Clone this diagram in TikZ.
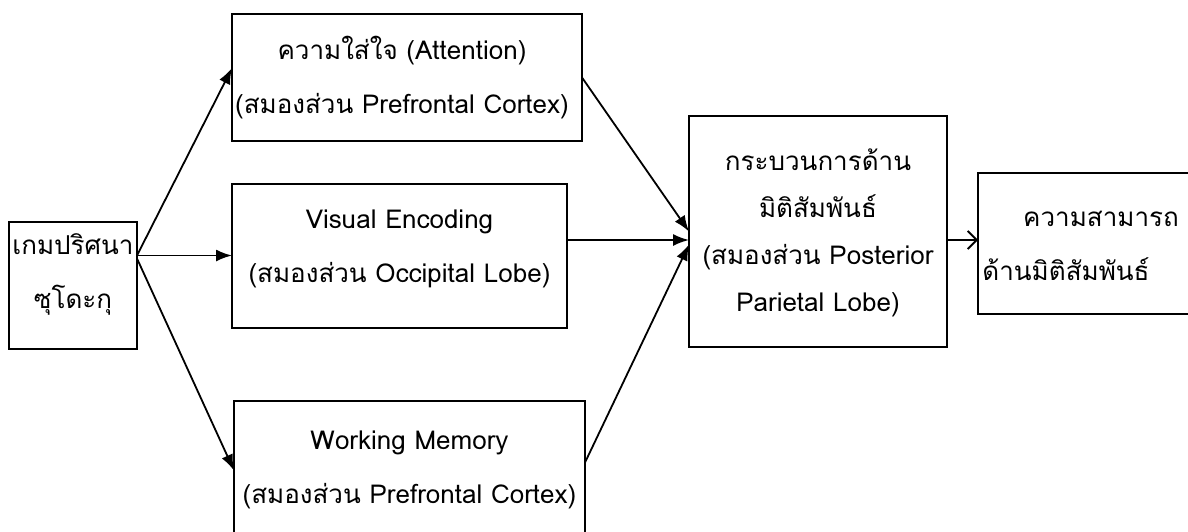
\documentclass[tikz,border=0pt]{standalone}
\usepackage{fontspec}
\setmainfont[Script=Thai]{Loma}
\usetikzlibrary{arrows.meta}
\begin{document}
\begin{tikzpicture}[x=1pt,y=-1pt,
  box/.style={draw, line width=1.8pt, inner sep=0pt, outer sep=0pt},
  txt/.style={align=center, inner sep=0pt, font=\fontsize{26}{54}\selectfont},
  arr/.style={line width=1.8pt, -{Latex[length=16pt,width=12pt]}},
  openarr/.style={line width=1.8pt, -{Straight Barb[length=9pt,width=18pt,line width=1.8pt]}}]
\useasboundingbox[fill=white] (0,0) rectangle (1188,531);
% boxes
\node[box, minimum width=128pt, minimum height=127pt] (game) at (73,285.5) {};
\node[box, minimum width=350pt, minimum height=127pt] (att) at (407,77.5) {};
\node[box, minimum width=335pt, minimum height=144pt] (vis) at (399.5,256) {};
\node[box, minimum width=351pt, minimum height=139pt] (wm) at (409.5,470.5) {};
\node[box, minimum width=258pt, minimum height=231pt] (spat) at (818,231.5) {};
\node[box, minimum width=214pt, minimum height=141pt] (abil) at (1085,243.5) {};
% texts
\node[txt] (gameT) at (73,274) {เกมปริศนา\\ซุโดะกุ};
\node[txt] (attT) at (402,77.5) {ความใส่ใจ (Attention)\\(สมองส่วน Prefrontal Cortex)};
\node[txt] (visT) at (399.5,249) {Visual Encoding\\(สมองส่วน Occipital Lobe)};
\node[txt] (wmT) at (409.5,470) {Working Memory\\(สมองส่วน Prefrontal Cortex)};
\node[txt, font=\fontsize{26}{47}\selectfont] (spatT) at (818,233) {กระบวนการด้าน\\มิติสัมพันธ์\\(สมองส่วน Posterior\\Parietal Lobe)};
\node[txt] (abilT) at (1066,246) {\hspace*{70pt}ความสามารถ\\ด้านมิติสัมพันธ์};
% connectors
\coordinate (gOut) at ([yshift=30pt]game.east);
\coordinate (vOut) at ([yshift=16pt]vis.east);
\coordinate (sOut) at ([yshift=-8.5pt]spat.east);
\draw[arr] (gOut) -- ([yshift=9.5pt]att.west);
\draw[arr] (gOut) -- (vis.west |- gOut);
\draw[arr] ([yshift=-3pt]gOut) -- (wm.west);
\draw[arr] (att.east) -- (spat.west);
\draw[arr] (vOut) -- (spat.west |- vOut);
\draw[arr] ([yshift=8pt]wm.east) -- ([yshift=-13pt]spat.west);
\draw[openarr] (sOut) -- (abil.west |- sOut);
\end{tikzpicture}
\end{document}
